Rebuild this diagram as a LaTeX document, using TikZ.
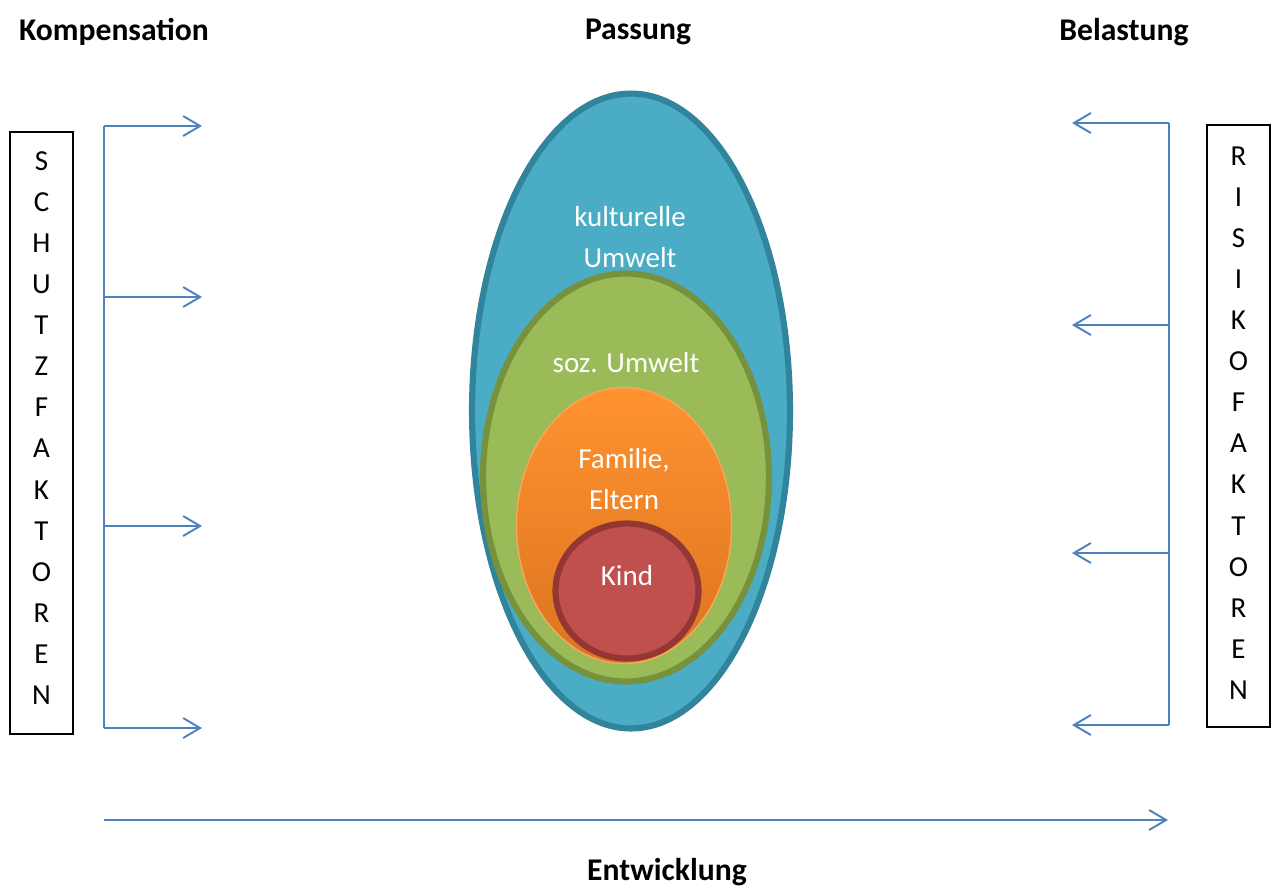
\documentclass[tikz,border=0pt]{standalone}
\usepackage{fontspec}
\setmainfont{Carlito}
\usetikzlibrary{arrows.meta,shapes.geometric}

\definecolor{pfeilblau}{HTML}{4F81BD}
\definecolor{kulturfill}{HTML}{4BACC6}
\definecolor{kulturrand}{HTML}{31849B}
\definecolor{sozfill}{HTML}{9BBB59}
\definecolor{sozrand}{HTML}{76923C}
\definecolor{famoben}{HTML}{FF9330}
\definecolor{famunten}{HTML}{DC7420}
\definecolor{famrand}{HTML}{F9A55A}
\definecolor{kindfill}{HTML}{C0504D}
\definecolor{kindrand}{HTML}{943634}

\tikzset{
	titel/.style={font=\fontsize{18}{20}\selectfont\bfseries},
	schrift/.style={font=\fontsize{16.5}{23.4}\selectfont},
	innen/.style={schrift, text=white, align=center},
	faktorbox/.style={draw=black, line width=0.8pt, minimum width=1.26cm, inner sep=0pt, align=center, schrift},
	pfeil/.style={color=pfeilblau, line width=1.1pt, -{Straight Barb[length=0.34cm, width=0.4cm, line width=1.1pt]}},
	linie/.style={color=pfeilblau, line width=1.1pt},
}

\begin{document}
\begin{tikzpicture}[x=0.02cm, y=-0.02cm]
			\useasboundingbox (0,0) rectangle (1271,887);

			\node[titel] (kompensation) at (114, 32) {Kompensation};
			\node[titel] (passung) at (638, 32) {Passung};
			\node[titel] (belastung) at (1124, 32) {Belastung};
			\node[titel] (entwicklung) at (667, 872) {Entwicklung};

			\node[faktorbox, minimum height=12.04cm] (schutz) at (41.5, 433) {};
			\node[schrift, align=center] (schutztext) at (41.5, 428) {S\\C\\H\\U\\T\\Z\\F\\A\\K\\T\\O\\R\\E\\N};
			\node[faktorbox, minimum height=12.04cm] (risiko) at (1238.5, 426) {};
			\node[schrift, align=center] (risikotext) at (1238.5, 423) {R\\I\\S\\I\\K\\O\\F\\A\\K\\T\\O\\R\\E\\N};

			\node[ellipse, draw=kulturrand, fill=kulturfill, line width=3.5pt, inner sep=0pt, minimum width=6.36cm, minimum height=12.7cm] (kultur) at (631, 411) {};
			\node[ellipse, draw=sozrand, fill=sozfill, line width=3.5pt, inner sep=0pt, minimum width=5.72cm, minimum height=8.16cm] (sozial) at (626, 477.5) {};
			\node[ellipse, draw=famrand, top color=famoben, bottom color=famunten, line width=0.8pt, inner sep=0pt, minimum width=4.3cm, minimum height=5.52cm] (familie) at (624, 525.5) {};
			\node[ellipse, draw=kindrand, fill=kindfill, line width=3.5pt, inner sep=0pt, minimum width=2.86cm, minimum height=2.7cm] (kind) at (627, 591) {};

			\node[innen] (kulturtext) at (630, 237) {kulturelle\\Umwelt};
			\node[innen] (soztext) at (626, 363) {soz. Umwelt};
			\node[innen] (famtext) at (624, 479) {Familie,\\Eltern};
			\node[innen] (kindtext) at (627, 576) {Kind};

			\coordinate (l1) at (104, 126);
			\coordinate (l2) at (104, 297);
			\coordinate (l3) at (104, 526);
			\coordinate (l4) at (104, 728);
			\coordinate (l1e) at (202, 126);
			\coordinate (l2e) at (202, 297);
			\coordinate (l3e) at (202, 526);
			\coordinate (l4e) at (202, 728);

			\coordinate (r1) at (1169, 123);
			\coordinate (r2) at (1169, 325);
			\coordinate (r3) at (1169, 553);
			\coordinate (r4) at (1169, 725);
			\coordinate (r1e) at (1072, 123);
			\coordinate (r2e) at (1072, 325);
			\coordinate (r3e) at (1072, 553);
			\coordinate (r4e) at (1072, 725);

			\coordinate (zeit0) at (104, 820);
			\coordinate (zeit1) at (1168, 820);

			\draw[linie] (l1) -- (l4);
			\draw[pfeil] (l1) -- (l1e);
			\draw[pfeil] (l2) -- (l2e);
			\draw[pfeil] (l3) -- (l3e);
			\draw[pfeil] (l4) -- (l4e);

			\draw[linie] (r1) -- (r4);
			\draw[pfeil] (r1) -- (r1e);
			\draw[pfeil] (r2) -- (r2e);
			\draw[pfeil] (r3) -- (r3e);
			\draw[pfeil] (r4) -- (r4e);

			\draw[pfeil] (zeit0) -- (zeit1);
		\end{tikzpicture}
\end{document}
